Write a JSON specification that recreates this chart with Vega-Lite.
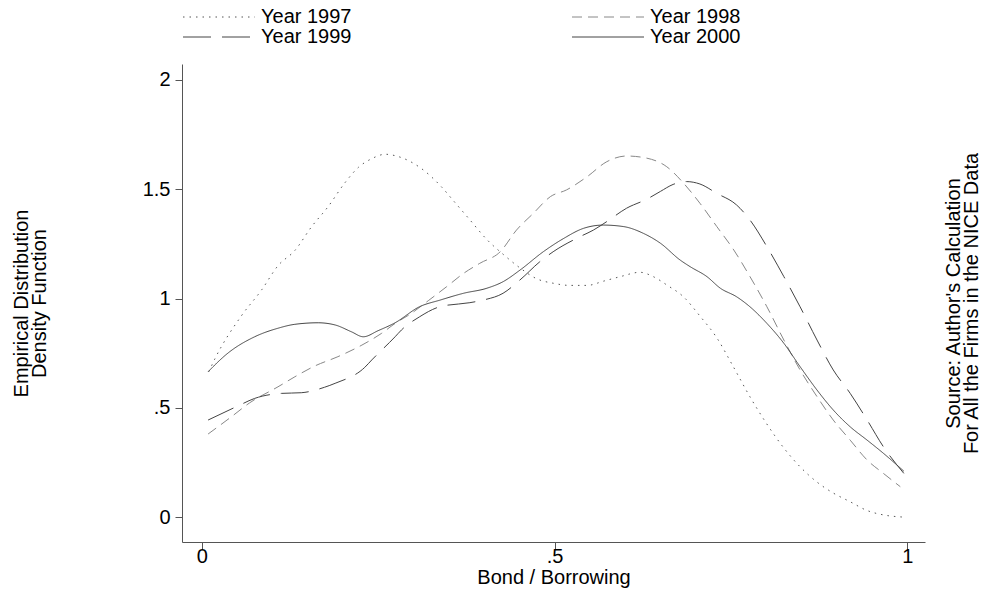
{
  "$schema": "https://vega.github.io/schema/vega-lite/v6.json",
  "width": 743,
  "height": 478,
  "autosize": {"type": "none"},
  "padding": {"left": 182, "top": 64, "right": 64, "bottom": 51},
  "background": "white",
  "config": {
    "font": "Liberation Sans",
    "view": {"stroke": null},
    "axis": {"grid": false, "domainColor": "#555", "tickColor": "#555", "labelColor": "#000", "titleColor": "#000", "labelFontSize": 20, "titleFontSize": 20, "titleFontWeight": "normal", "tickSize": 7, "domainWidth": 1, "tickWidth": 1}
  },
  "data": {"values": [
    {"x":0.01,"y":0.665,"year":"Year 1997"},{"x":0.018,"y":0.72,"year":"Year 1997"},{"x":0.056,"y":0.92,"year":"Year 1997"},{"x":0.085,"y":1.04,"year":"Year 1997"},{"x":0.108,"y":1.15,"year":"Year 1997"},{"x":0.132,"y":1.22,"year":"Year 1997"},{"x":0.156,"y":1.33,"year":"Year 1997"},{"x":0.179,"y":1.42,"year":"Year 1997"},{"x":0.203,"y":1.53,"year":"Year 1997"},{"x":0.222,"y":1.6,"year":"Year 1997"},{"x":0.241,"y":1.64,"year":"Year 1997"},{"x":0.26,"y":1.66,"year":"Year 1997"},{"x":0.278,"y":1.65,"year":"Year 1997"},{"x":0.309,"y":1.6,"year":"Year 1997"},{"x":0.34,"y":1.51,"year":"Year 1997"},{"x":0.356,"y":1.45,"year":"Year 1997"},{"x":0.38,"y":1.36,"year":"Year 1997"},{"x":0.404,"y":1.27,"year":"Year 1997"},{"x":0.428,"y":1.2,"year":"Year 1997"},{"x":0.451,"y":1.14,"year":"Year 1997"},{"x":0.475,"y":1.09,"year":"Year 1997"},{"x":0.498,"y":1.07,"year":"Year 1997"},{"x":0.522,"y":1.06,"year":"Year 1997"},{"x":0.546,"y":1.06,"year":"Year 1997"},{"x":0.57,"y":1.08,"year":"Year 1997"},{"x":0.593,"y":1.1,"year":"Year 1997"},{"x":0.621,"y":1.12,"year":"Year 1997"},{"x":0.64,"y":1.1,"year":"Year 1997"},{"x":0.66,"y":1.06,"year":"Year 1997"},{"x":0.682,"y":1.01,"year":"Year 1997"},{"x":0.706,"y":0.92,"year":"Year 1997"},{"x":0.73,"y":0.82,"year":"Year 1997"},{"x":0.753,"y":0.69,"year":"Year 1997"},{"x":0.777,"y":0.55,"year":"Year 1997"},{"x":0.8,"y":0.43,"year":"Year 1997"},{"x":0.824,"y":0.32,"year":"Year 1997"},{"x":0.848,"y":0.23,"year":"Year 1997"},{"x":0.872,"y":0.16,"year":"Year 1997"},{"x":0.895,"y":0.11,"year":"Year 1997"},{"x":0.919,"y":0.07,"year":"Year 1997"},{"x":0.943,"y":0.03,"year":"Year 1997"},{"x":0.966,"y":0.01,"year":"Year 1997"},{"x":0.994,"y":0.0,"year":"Year 1997"},

    {"x":0.009,"y":0.38,"year":"Year 1998"},{"x":0.042,"y":0.459,"year":"Year 1998"},{"x":0.068,"y":0.523,"year":"Year 1998"},{"x":0.108,"y":0.596,"year":"Year 1998"},{"x":0.132,"y":0.642,"year":"Year 1998"},{"x":0.16,"y":0.691,"year":"Year 1998"},{"x":0.193,"y":0.734,"year":"Year 1998"},{"x":0.227,"y":0.787,"year":"Year 1998"},{"x":0.255,"y":0.841,"year":"Year 1998"},{"x":0.274,"y":0.886,"year":"Year 1998"},{"x":0.297,"y":0.932,"year":"Year 1998"},{"x":0.321,"y":0.99,"year":"Year 1998"},{"x":0.347,"y":1.054,"year":"Year 1998"},{"x":0.371,"y":1.115,"year":"Year 1998"},{"x":0.394,"y":1.161,"year":"Year 1998"},{"x":0.423,"y":1.214,"year":"Year 1998"},{"x":0.446,"y":1.313,"year":"Year 1998"},{"x":0.47,"y":1.39,"year":"Year 1998"},{"x":0.494,"y":1.466,"year":"Year 1998"},{"x":0.517,"y":1.497,"year":"Year 1998"},{"x":0.546,"y":1.557,"year":"Year 1998"},{"x":0.574,"y":1.626,"year":"Year 1998"},{"x":0.602,"y":1.652,"year":"Year 1998"},{"x":0.631,"y":1.642,"year":"Year 1998"},{"x":0.659,"y":1.603,"year":"Year 1998"},{"x":0.683,"y":1.527,"year":"Year 1998"},{"x":0.706,"y":1.436,"year":"Year 1998"},{"x":0.73,"y":1.329,"year":"Year 1998"},{"x":0.754,"y":1.222,"year":"Year 1998"},{"x":0.777,"y":1.1,"year":"Year 1998"},{"x":0.801,"y":0.962,"year":"Year 1998"},{"x":0.825,"y":0.81,"year":"Year 1998"},{"x":0.848,"y":0.673,"year":"Year 1998"},{"x":0.872,"y":0.551,"year":"Year 1998"},{"x":0.895,"y":0.444,"year":"Year 1998"},{"x":0.919,"y":0.352,"year":"Year 1998"},{"x":0.943,"y":0.261,"year":"Year 1998"},{"x":0.966,"y":0.2,"year":"Year 1998"},{"x":0.99,"y":0.139,"year":"Year 1998"},

    {"x":0.009,"y":0.444,"year":"Year 1999"},{"x":0.051,"y":0.508,"year":"Year 1999"},{"x":0.075,"y":0.543,"year":"Year 1999"},{"x":0.113,"y":0.566,"year":"Year 1999"},{"x":0.141,"y":0.569,"year":"Year 1999"},{"x":0.174,"y":0.594,"year":"Year 1999"},{"x":0.189,"y":0.612,"year":"Year 1999"},{"x":0.231,"y":0.685,"year":"Year 1999"},{"x":0.241,"y":0.719,"year":"Year 1999"},{"x":0.274,"y":0.825,"year":"Year 1999"},{"x":0.283,"y":0.856,"year":"Year 1999"},{"x":0.309,"y":0.917,"year":"Year 1999"},{"x":0.338,"y":0.963,"year":"Year 1999"},{"x":0.38,"y":0.981,"year":"Year 1999"},{"x":0.399,"y":0.993,"year":"Year 1999"},{"x":0.427,"y":1.024,"year":"Year 1999"},{"x":0.451,"y":1.085,"year":"Year 1999"},{"x":0.479,"y":1.168,"year":"Year 1999"},{"x":0.498,"y":1.214,"year":"Year 1999"},{"x":0.536,"y":1.283,"year":"Year 1999"},{"x":0.555,"y":1.313,"year":"Year 1999"},{"x":0.574,"y":1.352,"year":"Year 1999"},{"x":0.602,"y":1.413,"year":"Year 1999"},{"x":0.631,"y":1.455,"year":"Year 1999"},{"x":0.65,"y":1.49,"year":"Year 1999"},{"x":0.668,"y":1.522,"year":"Year 1999"},{"x":0.687,"y":1.535,"year":"Year 1999"},{"x":0.706,"y":1.524,"year":"Year 1999"},{"x":0.73,"y":1.481,"year":"Year 1999"},{"x":0.758,"y":1.428,"year":"Year 1999"},{"x":0.777,"y":1.359,"year":"Year 1999"},{"x":0.801,"y":1.237,"year":"Year 1999"},{"x":0.825,"y":1.1,"year":"Year 1999"},{"x":0.848,"y":0.962,"year":"Year 1999"},{"x":0.872,"y":0.81,"year":"Year 1999"},{"x":0.895,"y":0.673,"year":"Year 1999"},{"x":0.919,"y":0.566,"year":"Year 1999"},{"x":0.943,"y":0.444,"year":"Year 1999"},{"x":0.966,"y":0.322,"year":"Year 1999"},{"x":0.995,"y":0.2,"year":"Year 1999"},

    {"x":0.009,"y":0.665,"year":"Year 2000"},{"x":0.037,"y":0.75,"year":"Year 2000"},{"x":0.075,"y":0.825,"year":"Year 2000"},{"x":0.108,"y":0.864,"year":"Year 2000"},{"x":0.132,"y":0.882,"year":"Year 2000"},{"x":0.165,"y":0.889,"year":"Year 2000"},{"x":0.189,"y":0.879,"year":"Year 2000"},{"x":0.212,"y":0.848,"year":"Year 2000"},{"x":0.229,"y":0.825,"year":"Year 2000"},{"x":0.25,"y":0.853,"year":"Year 2000"},{"x":0.274,"y":0.889,"year":"Year 2000"},{"x":0.309,"y":0.963,"year":"Year 2000"},{"x":0.338,"y":0.993,"year":"Year 2000"},{"x":0.371,"y":1.024,"year":"Year 2000"},{"x":0.404,"y":1.047,"year":"Year 2000"},{"x":0.427,"y":1.077,"year":"Year 2000"},{"x":0.451,"y":1.13,"year":"Year 2000"},{"x":0.484,"y":1.214,"year":"Year 2000"},{"x":0.513,"y":1.275,"year":"Year 2000"},{"x":0.541,"y":1.321,"year":"Year 2000"},{"x":0.569,"y":1.336,"year":"Year 2000"},{"x":0.598,"y":1.329,"year":"Year 2000"},{"x":0.626,"y":1.298,"year":"Year 2000"},{"x":0.65,"y":1.253,"year":"Year 2000"},{"x":0.678,"y":1.176,"year":"Year 2000"},{"x":0.692,"y":1.146,"year":"Year 2000"},{"x":0.716,"y":1.1,"year":"Year 2000"},{"x":0.735,"y":1.047,"year":"Year 2000"},{"x":0.758,"y":1.008,"year":"Year 2000"},{"x":0.777,"y":0.962,"year":"Year 2000"},{"x":0.801,"y":0.886,"year":"Year 2000"},{"x":0.825,"y":0.795,"year":"Year 2000"},{"x":0.848,"y":0.688,"year":"Year 2000"},{"x":0.872,"y":0.581,"year":"Year 2000"},{"x":0.895,"y":0.49,"year":"Year 2000"},{"x":0.919,"y":0.413,"year":"Year 2000"},{"x":0.943,"y":0.352,"year":"Year 2000"},{"x":0.966,"y":0.292,"year":"Year 2000"},{"x":0.995,"y":0.21,"year":"Year 2000"}
  ]},
  "layer": [
    {
      "mark": {"type": "line", "strokeWidth": 1, "interpolate": "monotone"},
      "encoding": {
        "x": {"field": "x", "type": "quantitative", "scale": {"domain": [-0.028, 1.025], "nice": false, "zero": false},
              "axis": {"values": [0, 0.5, 1], "labelExpr": "datum.value == 0.5 ? '.5' : format(datum.value, '.1~f')", "title": "Bond / Borrowing", "labelPadding": -3, "titlePadding": 1, "labelFlush": false}},
        "y": {"field": "y", "type": "quantitative", "scale": {"domain": [-0.114, 2.073], "nice": false, "zero": false},
              "axis": {"values": [0, 0.5, 1, 1.5, 2], "labelExpr": "datum.value == 0.5 ? '.5' : format(datum.value, '.1~f')", "title": ["Empirical Distribution", "Density Function"], "titleLineHeight": 18, "titlePadding": 93, "labelPadding": 5}},
        "color": {"field": "year", "type": "nominal", "scale": {"domain": ["Year 1997", "Year 1998", "Year 1999", "Year 2000"], "range": ["#555555", "#888888", "#444444", "#444444"]},
                  "legend": {"orient": "none", "legendX": 27, "legendY": -57, "columns": 2, "direction": "horizontal", "title": null, "symbolType": "M-36,0H36", "symbolSize": 4, "symbolStrokeWidth": 1, "labelFontSize": 20, "labelOffset": 32, "columnPadding": 218, "rowPadding": 0, "padding": 0}},
        "strokeDash": {"field": "year", "type": "nominal", "scale": {"domain": ["Year 1997", "Year 1998", "Year 1999", "Year 2000"], "range": [[1.5, 5], [10, 6], [28, 11], [1, 0]]},
                  "legend": {"orient": "none", "legendX": 27, "legendY": -57, "columns": 2, "direction": "horizontal", "title": null, "symbolType": "M-36,0H36", "symbolSize": 4, "symbolStrokeWidth": 1, "labelFontSize": 20, "labelOffset": 32, "columnPadding": 218, "rowPadding": 0, "padding": 0}}
      }
    },
    {
      "mark": {"type": "point", "opacity": 0},
      "encoding": {
        "x": {"field": "x", "type": "quantitative", "scale": {"domain": [-0.028, 1.025], "nice": false, "zero": false}},
        "y": {"field": "y", "type": "quantitative", "scale": {"domain": [-0.114, 2.073], "nice": false, "zero": false},
              "axis": {"orient": "right", "labels": false, "ticks": false, "domain": false, "title": ["Source: Author's Calculation", "For All the Firms in the NICE Data"], "titleAngle": -90, "titleBaseline": "top", "titleLineHeight": 18, "titlePadding": 0}}
      }
    }
  ],
  "resolve": {"scale": {"y": "independent"}}
}
